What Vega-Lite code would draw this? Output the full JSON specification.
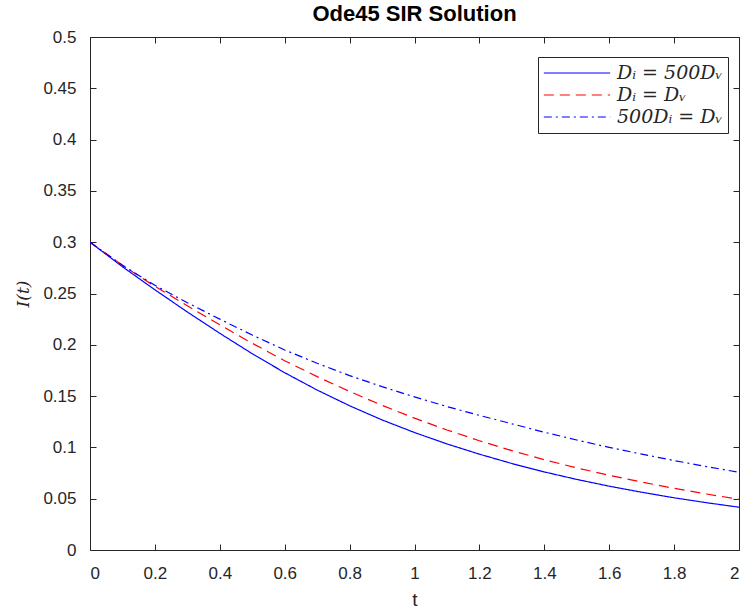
{
  "$schema": "https://vega.github.io/schema/vega-lite/v6.json",
  "width": 649,
  "height": 513,
  "autosize": "none",
  "padding": {"left": 90, "top": 37, "right": 10, "bottom": 65},
  "background": "white",
  "title": {"text": "Ode45 SIR Solution", "fontSize": 22, "font": "Liberation Sans", "fontWeight": "bold", "color": "#000000", "offset": 2},
  "data": {"values": [
    {"t": 0.0, "I": 0.3000, "s": "a"}, {"t": 0.1, "I": 0.2761, "s": "a"}, {"t": 0.2, "I": 0.2536, "s": "a"}, {"t": 0.3, "I": 0.2320, "s": "a"}, {"t": 0.4, "I": 0.2112, "s": "a"}, {"t": 0.5, "I": 0.1913, "s": "a"}, {"t": 0.6, "I": 0.1728, "s": "a"}, {"t": 0.7, "I": 0.1559, "s": "a"}, {"t": 0.8, "I": 0.1406, "s": "a"}, {"t": 0.9, "I": 0.1268, "s": "a"}, {"t": 1.0, "I": 0.1145, "s": "a"}, {"t": 1.1, "I": 0.1034, "s": "a"}, {"t": 1.2, "I": 0.0934, "s": "a"}, {"t": 1.3, "I": 0.0843, "s": "a"}, {"t": 1.4, "I": 0.0761, "s": "a"}, {"t": 1.5, "I": 0.0688, "s": "a"}, {"t": 1.6, "I": 0.0622, "s": "a"}, {"t": 1.7, "I": 0.0563, "s": "a"}, {"t": 1.8, "I": 0.0509, "s": "a"}, {"t": 1.9, "I": 0.0461, "s": "a"}, {"t": 2.0, "I": 0.0417, "s": "a"},
    {"t": 0.0, "I": 0.3000, "s": "b"}, {"t": 0.1, "I": 0.2775, "s": "b"}, {"t": 0.2, "I": 0.2570, "s": "b"}, {"t": 0.3, "I": 0.2380, "s": "b"}, {"t": 0.4, "I": 0.2195, "s": "b"}, {"t": 0.5, "I": 0.2015, "s": "b"}, {"t": 0.6, "I": 0.1845, "s": "b"}, {"t": 0.7, "I": 0.1690, "s": "b"}, {"t": 0.8, "I": 0.1545, "s": "b"}, {"t": 0.9, "I": 0.1410, "s": "b"}, {"t": 1.0, "I": 0.1285, "s": "b"}, {"t": 1.1, "I": 0.1170, "s": "b"}, {"t": 1.2, "I": 0.1065, "s": "b"}, {"t": 1.3, "I": 0.0968, "s": "b"}, {"t": 1.4, "I": 0.0880, "s": "b"}, {"t": 1.5, "I": 0.0800, "s": "b"}, {"t": 1.6, "I": 0.0728, "s": "b"}, {"t": 1.7, "I": 0.0662, "s": "b"}, {"t": 1.8, "I": 0.0601, "s": "b"}, {"t": 1.9, "I": 0.0546, "s": "b"}, {"t": 2.0, "I": 0.0494, "s": "b"},
    {"t": 0.0, "I": 0.3000, "s": "c"}, {"t": 0.1, "I": 0.2775, "s": "c"}, {"t": 0.2, "I": 0.2580, "s": "c"}, {"t": 0.3, "I": 0.2410, "s": "c"}, {"t": 0.4, "I": 0.2250, "s": "c"}, {"t": 0.5, "I": 0.2095, "s": "c"}, {"t": 0.6, "I": 0.1950, "s": "c"}, {"t": 0.7, "I": 0.1820, "s": "c"}, {"t": 0.8, "I": 0.1700, "s": "c"}, {"t": 0.9, "I": 0.1592, "s": "c"}, {"t": 1.0, "I": 0.1492, "s": "c"}, {"t": 1.1, "I": 0.1398, "s": "c"}, {"t": 1.2, "I": 0.1312, "s": "c"}, {"t": 1.3, "I": 0.1230, "s": "c"}, {"t": 1.4, "I": 0.1148, "s": "c"}, {"t": 1.5, "I": 0.1072, "s": "c"}, {"t": 1.6, "I": 0.1000, "s": "c"}, {"t": 1.7, "I": 0.0935, "s": "c"}, {"t": 1.8, "I": 0.0872, "s": "c"}, {"t": 1.9, "I": 0.0813, "s": "c"}, {"t": 2.0, "I": 0.0757, "s": "c"}
  ]},
  "transform": [
    {"lookup": "s", "from": {"data": {"values": [
      {"s": "a", "series": "Dᵢ = 500Dᵥ"},
      {"s": "b", "series": "Dᵢ = Dᵥ"},
      {"s": "c", "series": "500Dᵢ = Dᵥ"}
    ]}, "key": "s", "fields": ["series"]}}
  ],
  "config": {
    "view": {"stroke": null},
    "axis": {
      "grid": false,
      "domainColor": "#262626",
      "domainWidth": 1,
      "tickColor": "#262626",
      "tickWidth": 1,
      "tickSize": -6,
      "labelColor": "#262626",
      "labelFont": "Liberation Sans",
      "labelFontSize": 17,
      "titleColor": "#262626",
      "titleFontWeight": "normal"
    }
  },
  "layer": [
    {
      "mark": {"type": "line", "strokeWidth": 1.2, "clip": true},
      "encoding": {
        "x": {"field": "t", "type": "quantitative",
              "scale": {"domain": [0, 2], "nice": false, "zero": false},
              "axis": {"orient": "bottom", "values": [0, 0.2, 0.4, 0.6, 0.8, 1, 1.2, 1.4, 1.6, 1.8, 2], "format": "~g", "labelPadding": 21, "title": "t", "titleFont": "Liberation Sans", "titleFontSize": 19, "titlePadding": 9}},
        "y": {"field": "I", "type": "quantitative",
              "scale": {"domain": [0, 0.5], "nice": false, "zero": false},
              "axis": {"orient": "left", "values": [0, 0.05, 0.1, 0.15, 0.2, 0.25, 0.3, 0.35, 0.4, 0.45, 0.5], "format": "~g", "labelPadding": 20, "title": "I(t)", "titleFont": "DejaVu Serif", "titleFontStyle": "italic", "titleFontSize": 17, "titlePadding": 10}},
        "color": {"field": "series", "type": "nominal",
                  "scale": {"domain": ["Dᵢ = 500Dᵥ", "Dᵢ = Dᵥ", "500Dᵢ = Dᵥ"], "range": ["#0000ff", "#ff0000", "#0000ff"]},
                  "legend": {"title": null, "orient": "none", "legendX": 448, "legendY": 20, "symbolType": "stroke", "symbolSize": 4400, "symbolStrokeWidth": 1.2, "clipHeight": 22, "labelFont": "DejaVu Serif", "labelFontStyle": "italic", "labelFontSize": 19, "labelColor": "#262626", "strokeColor": "#262626", "fillColor": "white", "padding": 5, "rowPadding": 0, "labelOffset": 6}},
        "strokeDash": {"field": "series", "type": "nominal",
                  "scale": {"domain": ["Dᵢ = 500Dᵥ", "Dᵢ = Dᵥ", "500Dᵢ = Dᵥ"], "range": [[1, 0], [10, 6], [8, 4, 2, 4]]},
                  "legend": {"title": null, "orient": "none", "legendX": 448, "legendY": 20}}
      }
    },
    {
      "mark": {"type": "line", "opacity": 0},
      "encoding": {
        "x": {"field": "t", "type": "quantitative",
              "axis": {"orient": "top", "values": [0, 0.2, 0.4, 0.6, 0.8, 1, 1.2, 1.4, 1.6, 1.8, 2], "labels": false, "title": null}},
        "y": {"field": "I", "type": "quantitative",
              "axis": {"orient": "right", "values": [0, 0.05, 0.1, 0.15, 0.2, 0.25, 0.3, 0.35, 0.4, 0.45, 0.5], "labels": false, "title": null}}
      }
    }
  ],
  "resolve": {"axis": {"x": "independent", "y": "independent"}}
}
